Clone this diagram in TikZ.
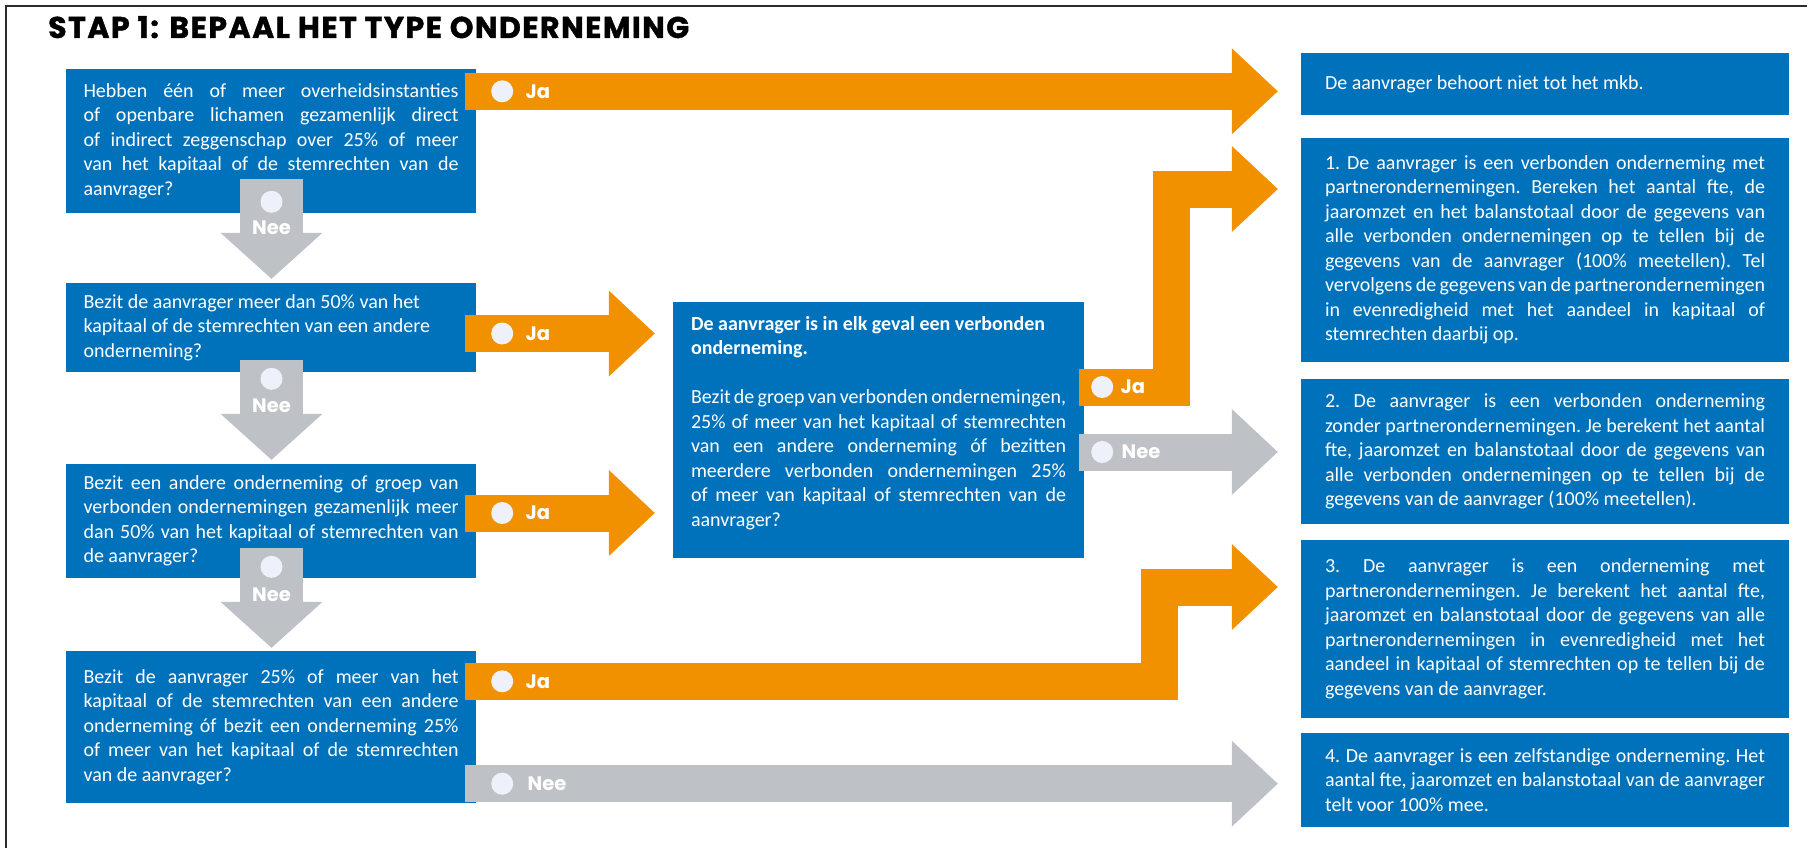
\documentclass[tikz,border=0pt]{standalone}
\usepackage{fontspec}
\setmainfont{Carlito}
\newfontfamily\kopfont{Poppins}
\newfontfamily\titelfont{Poppins}[LetterSpace=5,FakeBold=1.3]
\usepackage{tikz}
\usetikzlibrary{calc,positioning}

\definecolor{vakblauw}{RGB}{0,114,187}
\definecolor{jaoranje}{RGB}{242,145,0}
\definecolor{neegrijs}{RGB}{190,194,198}
\definecolor{bolwit}{RGB}{238,240,250}
\definecolor{randgrijs}{RGB}{45,45,45}

\newcommand\vakzet{\spaceskip=4.5pt plus 12pt minus 4pt\relax\frenchspacing\hyphenpenalty=10000\exhyphenpenalty=10000\tolerance=10000\relax}
\def\pijlkop[#1](#2){\fill[#1] ($(#2)+(-46,-43)$) -- (#2) -- ($(#2)+(-46,43)$) -- cycle;}
\def\hpijl[#1](#2)(#3){\draw[#1, line width=37pt] (#2) -- ($(#3)+(-40,0)$); \pijlkop[#1](#3)}
\def\vpijl(#1){\fill[nee] ($(#1)+(-31.5,-100)$) rectangle ($(#1)+(31.5,-44)$);
  \fill[nee] ($(#1)+(-51,-46)$) -- (#1) -- ($(#1)+(51,-46)$) -- cycle;}

\begin{document}
\begin{tikzpicture}[x=1pt, y=-1pt,
    vak/.style={fill=vakblauw, text=white, inner sep=0pt, align=justify,
      font=\fontsize{20}{24.5}\selectfont\vakzet, execute at begin node=\vakzet},
    vraag/.style={vak, text width=375pt, minimum width=410pt},
    uitkomst/.style={vak, text width=440pt, minimum width=488pt},
    ja/.style={color=jaoranje},
    nee/.style={color=neegrijs},
    bol/.style={circle, fill=bolwit, minimum size=22pt, inner sep=0pt},
    keuze/.style={text=white, inner sep=0pt, font=\kopfont\bfseries\fontsize{19.5}{20}\selectfont},
    titel/.style={inner sep=0pt, font=\titelfont\bfseries\fontsize{30}{32}\selectfont},
    rand/.style={draw=randgrijs, line width=2.2pt}]
  \useasboundingbox (0,0) rectangle (1807,848);

  %% kader en titel
  \draw[rand] (1807,6) -- (6,6) -- (6,848);
  \node[titel, anchor=base west] (titel) at (48,38) {STAP 1: BEPAAL HET TYPE ONDERNEMING};

  %% vragen links
  \node[vraag, minimum height=144pt] (q1) at (271,141) {Hebben één of meer overheidsinstanties\linebreak
    of openbare lichamen gezamenlijk direct\linebreak
    of indirect zeggenschap over 25\% of meer\linebreak
    van het kapitaal of de stemrechten van de\linebreak
    aanvrager?};
  \node[vraag, align=flush left, minimum height=89pt] (q2) at (271,327.5) {Bezit de aanvrager meer dan 50\% van het\newline
    kapitaal of de stemrechten van een andere\newline
    onderneming?};
  \node[vraag, minimum height=114pt] (q3) at (271,521) {Bezit een andere onderneming of groep van\linebreak
    verbonden ondernemingen gezamenlijk meer\linebreak
    dan 50\% van het kapitaal of stemrechten van\linebreak
    de aanvrager?};
  \node[vraag, minimum height=152pt] (q4) at (271,727) {Bezit de aanvrager 25\% of meer van het\linebreak
    kapitaal of de stemrechten van een andere\linebreak
    onderneming óf bezit een onderneming 25\%\linebreak
    of meer van het kapitaal of de stemrechten\linebreak
    van de aanvrager?};

  %% middenvak
  \node[vak, text width=375pt, minimum width=411pt, minimum height=256pt] (mid) at (878.5,429.5) {{\bfseries De aanvrager is in elk geval een verbonden\newline
    onderneming.}\par\vspace{24.5pt}
    Bezit de groep van verbonden ondernemingen,\linebreak
    25\% of meer van het kapitaal of stemrechten\linebreak
    van een andere onderneming óf bezitten\linebreak
    meerdere verbonden ondernemingen 25\%\linebreak
    of meer van kapitaal of stemrechten van de\linebreak
    aanvrager?\par\vspace{13pt}};

  %% uitkomsten rechts
  \node[uitkomst, minimum height=62pt] (r0) at (1545,84) {De aanvrager behoort niet tot het mkb.};
  \node[uitkomst, minimum height=224pt] (r1) at (1545,250) {1. De aanvrager is een verbonden onderneming met\linebreak
    partnerondernemingen. Bereken het aantal fte, de\linebreak
    jaaromzet en het balanstotaal door de gegevens van\linebreak
    alle verbonden ondernemingen op te tellen bij de\linebreak
    gegevens van de aanvrager (100\% meetellen). Tel\linebreak
    vervolgens de gegevens van de partnerondernemingen\linebreak
    in evenredigheid met het aandeel in kapitaal of\linebreak
    stemrechten daarbij op.};
  \node[uitkomst, minimum height=145pt] (r2) at (1545,451.5) {2. De aanvrager is een verbonden onderneming\linebreak
    zonder partnerondernemingen. Je berekent het aantal\linebreak
    fte, jaaromzet en balanstotaal door de gegevens van\linebreak
    alle verbonden ondernemingen op te tellen bij de\linebreak
    gegevens van de aanvrager (100\% meetellen).};
  \node[uitkomst, minimum height=178pt] (r3) at (1545,629) {3. De aanvrager is een onderneming met\linebreak
    partnerondernemingen. Je berekent het aantal fte,\linebreak
    jaaromzet en balanstotaal door de gegevens van alle\linebreak
    partnerondernemingen in evenredigheid met het\linebreak
    aandeel in kapitaal of stemrechten op te tellen bij de\linebreak
    gegevens van de aanvrager.};
  \node[uitkomst, minimum height=94pt] (r4) at (1545,780) {4. De aanvrager is een zelfstandige onderneming. Het\linebreak
    aantal fte, jaaromzet en balanstotaal van de aanvrager\linebreak
    telt voor 100\% mee.};

  %% pijlen
  \coordinate (ja1) at ($(q1.north east)+(-11,22.5)$);
  \coordinate (ja2) at ($(q2.east)+(-11,6)$);
  \coordinate (ja3) at ($(q3.east)+(-11,-8)$);
  \coordinate (ja4) at ($(q4.north east)+(-11,30.5)$);
  \coordinate (nee4) at ($(q4.south east)+(-11,-19.5)$);
  \coordinate (jam) at ($(mid.east)+(-5,-42.5)$);
  \coordinate (neem) at ($(mid.east)+(-5,22.5)$);
  \coordinate (ja1t) at ($(r0.west |- ja1)+(-23,0)$);
  \coordinate (ja2t) at ($(mid.west |- ja2)+(-18,0)$);
  \coordinate (ja3t) at ($(mid.west |- ja3)+(-18,0)$);
  \coordinate (ja4t) at ($(r3.west)+(-23,-42)$);
  \coordinate (jamt) at ($(r1.west)+(-23,-61)$);
  \coordinate (neemt) at ($(r2.west |- neem)+(-23,0)$);
  \coordinate (nee4t) at ($(r4.west |- nee4)+(-23,0)$);

  \hpijl[ja](ja1)(ja1t)
  \hpijl[ja](ja2)(ja2t)
  \hpijl[ja](ja3)(ja3t)
  \hpijl[nee](nee4)(nee4t)
  \hpijl[nee](neem)(neemt)

  \draw[ja, line width=37pt] (ja4) -| ($(ja4t)+(-118,0)$) -- ($(ja4t)+(-40,0)$);
  \pijlkop[ja](ja4t)
  \draw[ja, line width=37pt] (jam) -| ($(jamt)+(-106.5,0)$) -- ($(jamt)+(-40,0)$);
  \pijlkop[ja](jamt)

  \coordinate (nee1t) at ($(q2.north)+(0.5,-4)$);
  \coordinate (nee2t) at ($(q3.north)+(0.5,-4)$);
  \coordinate (nee3t) at ($(q4.north)+(0.5,-3)$);
  \vpijl(nee1t)
  \vpijl(nee2t)
  \vpijl(nee3t)

  %% ja / nee
  \node[bol] (ja1b) at ($(ja1)+(37,0)$) {};
  \node[keuze, right=12pt of ja1b] (ja1l) {Ja};
  \node[bol] (ja2b) at ($(ja2)+(37,0)$) {};
  \node[keuze, right=12pt of ja2b] (ja2l) {Ja};
  \node[bol] (ja3b) at ($(ja3)+(37,0)$) {};
  \node[keuze, right=12pt of ja3b] (ja3l) {Ja};
  \node[bol] (ja4b) at ($(ja4)+(37,0)$) {};
  \node[keuze, right=12pt of ja4b] (ja4l) {Ja};
  \node[bol] (nee4b) at ($(nee4)+(37,0)$) {};
  \node[keuze, right=14pt of nee4b] (nee4l) {Nee};
  \node[bol] (jamb) at ($(jam)+(23,0)$) {};
  \node[keuze, right=7pt of jamb] (jaml) {Ja};
  \node[bol] (neemb) at ($(neem)+(23,0)$) {};
  \node[keuze, right=8pt of neemb] (neeml) {Nee};

  \node[bol] (nee1b) at ($(nee1t)+(0,-77)$) {};
  \node[keuze] (nee1l) at ($(nee1t)+(0,-51)$) {Nee};
  \node[bol] (nee2b) at ($(nee2t)+(0,-81)$) {};
  \node[keuze] (nee2l) at ($(nee2t)+(0,-54)$) {Nee};
  \node[bol] (nee3b) at ($(nee3t)+(0,-81)$) {};
  \node[keuze] (nee3l) at ($(nee3t)+(0,-53)$) {Nee};
\end{tikzpicture}
\end{document}
